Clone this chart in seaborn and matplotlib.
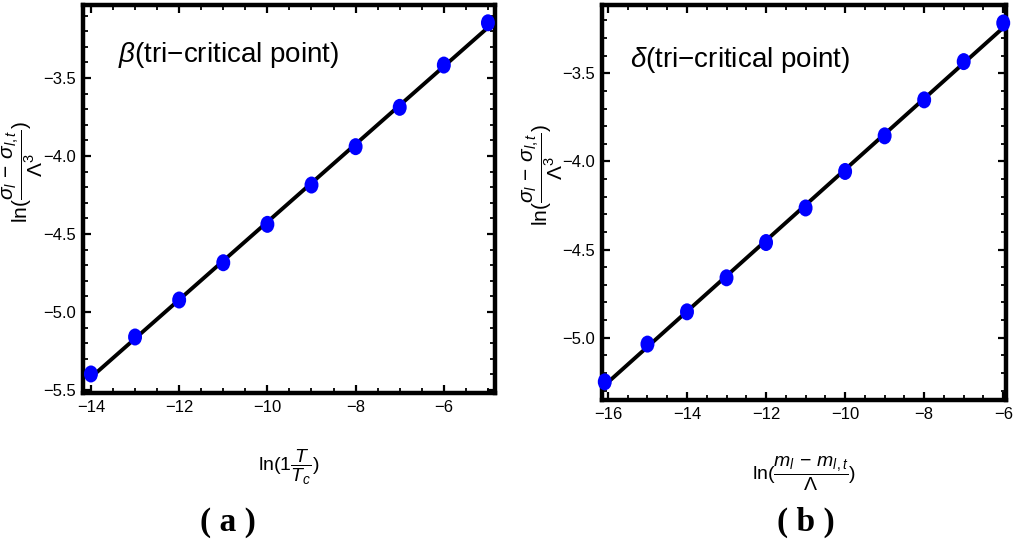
import numpy as np
import pandas as pd
import matplotlib
matplotlib.use("Agg")
import matplotlib.pyplot as plt
from matplotlib import font_manager
from matplotlib.path import Path
from matplotlib.transforms import Affine2D
from matplotlib.ticker import MultipleLocator
import seaborn as sns

# ---- data ----
x_a = [-14, -13, -12, -11, -10, -9, -8, -7, -6, -5]
y_a = [-5.397, -5.160, -4.923, -4.684, -4.438, -4.186, -3.940, -3.688, -3.417, -3.146]
x_b = [-16.08, -15, -14, -13, -12, -11, -10, -9, -8, -7, -6]
y_b = [-5.250, -5.036, -4.853, -4.660, -4.460, -4.264, -4.057, -3.855, -3.651, -3.434, -3.215]

title_a = r"$\beta$(tri−critical point)"
title_b = r"$\delta$(tri−critical point)"
ylabel = r"$\mathrm{ln}(\dfrac{\sigma_l\,-\,\sigma_{l,t}}{\Lambda^3})$"
xlabel_a = r"$\mathrm{ln}(1\dfrac{T}{T_c})$"
xlabel_b = r"$\mathrm{ln}(\dfrac{m_l\,-\,m_{l,t}}{\Lambda})$"
panel_a = "( a )"
panel_b = "( b )"

sns.set_theme(style="white")

names = set(font_manager.get_font_names())
narrow = "Liberation Sans Narrow" if "Liberation Sans Narrow" in names else "Liberation Sans"
plt.rcParams["font.family"] = [narrow, "DejaVu Sans"]
plt.rcParams["mathtext.fontset"] = "custom"
plt.rcParams["mathtext.rm"] = narrow
plt.rcParams["mathtext.it"] = narrow + ":italic"
plt.rcParams["mathtext.bf"] = narrow + ":bold"

fig = plt.figure(figsize=(10.14, 5.41), dpi=100)
W, H = 1014, 541

def px_axes(l, t, r, b):
    return fig.add_axes([l / W, 1 - b / H, (r - l) / W, (b - t) / H])

ax_a = px_axes(83, 5, 495, 393)
ax_b = px_axes(602, 5, 1006, 400)

ell = Path.unit_circle().transformed(Affine2D().scale(0.82, 1.0))

def draw(ax, xs, ys, xlim, ylim, title, tx, ty, xlabel):
    xs = np.asarray(xs, float); ys = np.asarray(ys, float)
    k, c = np.polyfit(xs, ys, 1)
    df = pd.DataFrame({"x": xs, "y": ys, "fit": k * xs + c})
    sns.lineplot(data=df, x="x", y="fit", ax=ax, color="black", lw=2.8, zorder=2)
    sns.scatterplot(data=df, x="x", y="y", ax=ax, color="#0000FF", marker=ell,
                    s=150, edgecolor="none", linewidth=0, zorder=3, clip_on=False)
    ax.set_xlim(*xlim); ax.set_ylim(*ylim)
    ax.xaxis.set_major_locator(MultipleLocator(2))
    ax.xaxis.set_minor_locator(MultipleLocator(0.5))
    ax.yaxis.set_major_locator(MultipleLocator(0.5))
    ax.yaxis.set_minor_locator(MultipleLocator(0.1))
    ax.yaxis.set_major_formatter(matplotlib.ticker.FuncFormatter(lambda v, p: f"{v:.1f}".replace("-", "−")))
    ax.tick_params(which="both", direction="in", top=True, right=True, bottom=True, left=True,
                   labelsize=12, color="black", labelcolor="black")
    ax.tick_params(which="major", length=6, width=1.6, pad=5)
    ax.tick_params(which="minor", length=3.5, width=1.3)
    for s in ax.spines.values():
        s.set_color("black"); s.set_linewidth(3.2); s.set_visible(True)
    ax.set_facecolor("white")
    ax.text(tx, ty, title, transform=ax.transAxes, fontsize=20, va="center", ha="left", color="black")
    ax.set_xlabel(xlabel, fontsize=14, color="black", labelpad=24)
    ax.set_ylabel(ylabel, fontsize=15, color="black")
    ax.yaxis.set_label_coords(-0.092, 0.57)

draw(ax_a, x_a, y_a, (-14.18, -4.84), (-5.519, -3.032), title_a, 0.085, 0.871, xlabel_a)
draw(ax_b, x_b, y_b, (-16.15, -5.93), (-5.353, -3.113), title_b, 0.069, 0.861, xlabel_b)

fig.text(228 / W, 1 - 522 / H, panel_a, fontsize=24, fontweight="bold",
         family="Liberation Serif", ha="center", va="center", color="black")
fig.text(806 / W, 1 - 522 / H, panel_b, fontsize=24, fontweight="bold",
         family="Liberation Serif", ha="center", va="center", color="black")

fig.savefig("out.png", dpi=100, facecolor="white")
